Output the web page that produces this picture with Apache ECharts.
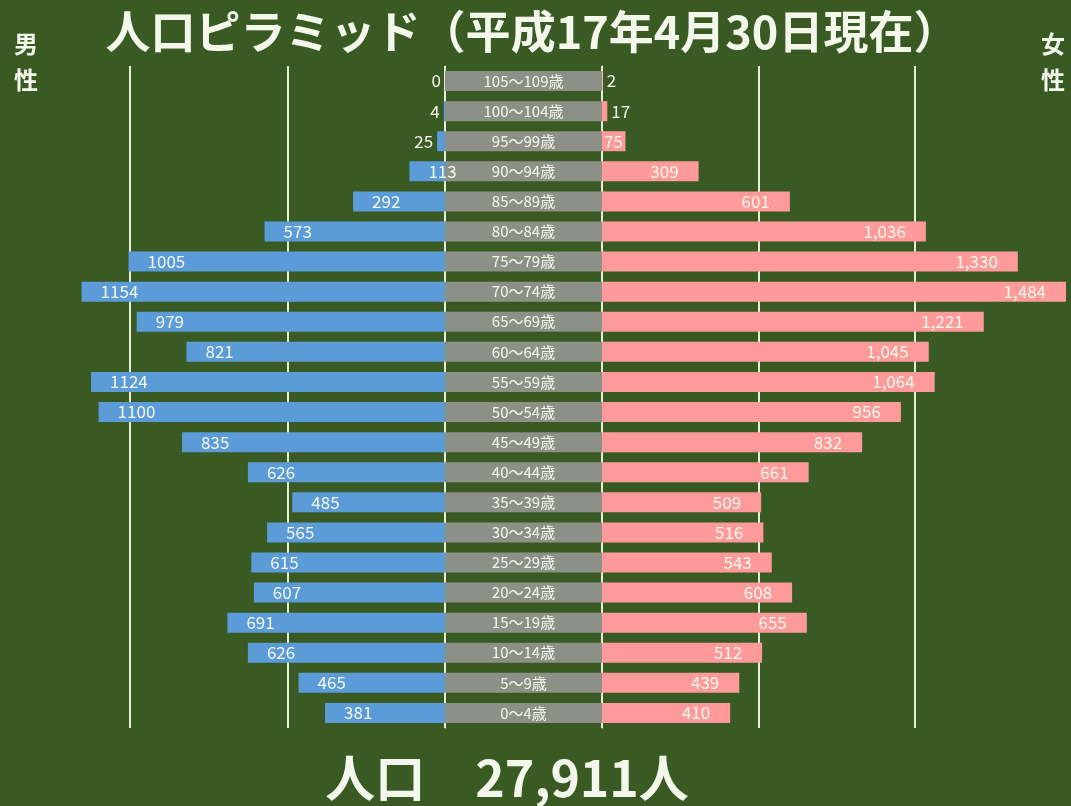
<!DOCTYPE html>
<html>
<head>
<meta charset="utf-8">
<script src="https://cdn.jsdelivr.net/npm/echarts@6/dist/echarts.min.js"></script>
<style>
  html, body { margin: 0; padding: 0; background: #3a5a24; }
  #chart { width: 1071px; height: 806px; }
</style>
</head>
<body>
<div id="chart"></div>
<script>
// 年齢階級（上から順）
var ages = ['105～109歳', '100～104歳', '95～99歳', '90～94歳', '85～89歳', '80～84歳',
            '75～79歳', '70～74歳', '65～69歳', '60～64歳', '55～59歳', '50～54歳',
            '45～49歳', '40～44歳', '35～39歳', '30～34歳', '25～29歳', '20～24歳',
            '15～19歳', '10～14歳', '5～9歳', '0～4歳'];
var male = [0, 4, 25, 113, 292, 573, 1005, 1154, 979, 821, 1124, 1100,
            835, 626, 485, 565, 615, 607, 691, 626, 465, 381];
var female = [2, 17, 75, 309, 601, 1036, 1330, 1484, 1221, 1045, 1064, 956,
              832, 661, 509, 516, 543, 608, 655, 512, 439, 410];

var textColor = '#f4f8ec';
var lineColor = '#e6eed8';
var font = '"Noto Sans CJK JP", "Noto Sans", sans-serif';

var total = 0;
male.forEach(function (v) { total += v; });
female.forEach(function (v) { total += v; });

var maleData = male.map(function (v) {
    var item = { value: v };
    if (v < 60) {
        item.label = { position: 'left', distance: 4 };
    }
    return item;
});
var femaleData = female.map(function (v) {
    var item = { value: v };
    if (v < 30) {
        item.label = { position: 'right', distance: 4 };
    } else if (v < 100) {
        item.label = { position: 'insideLeft', distance: 2 };
    }
    return item;
});
var bandData = ages.map(function () { return 1; });

var chart = echarts.init(document.getElementById('chart'));

var gridTop = 66, gridHeight = 662;

var option = {
    backgroundColor: '#3a5a24',
    textStyle: { fontFamily: font },
    title: {
        text: '人口ピラミッド（平成17年4月30日現在）',
        left: 527,
        top: 4,
        textAlign: 'center',
        textStyle: { color: textColor, fontSize: 45, fontWeight: 'bold', fontFamily: font }
    },
    graphic: [
        { type: 'text', left: 14, top: 26, style: { text: '男\n性', fill: textColor, font: 'bold 24px ' + font, lineHeight: 36 } },
        { type: 'text', right: 6, top: 26, style: { text: '女\n性', fill: textColor, font: 'bold 24px ' + font, lineHeight: 36 } },
        { type: 'text', x: 507, y: 778, style: {
            text: '人口　' + total.toLocaleString('en-US') + '人',
            fill: textColor, font: 'bold 50px ' + font, align: 'center', verticalAlign: 'middle' } }
    ],
    grid: [
        { left: 1, width: 444, top: gridTop, height: gridHeight },
        { left: 445, width: 157, top: gridTop, height: gridHeight },
        { left: 602, width: 473, top: gridTop, height: gridHeight }
    ],
    xAxis: [
        { gridIndex: 0, type: 'value', inverse: true, min: 0, max: 1410, interval: 500,
          axisLabel: { show: false }, axisTick: { show: false }, axisLine: { show: false },
          splitLine: { show: true, showMaxLine: false, lineStyle: { color: lineColor, width: 2 } } },
        { gridIndex: 1, type: 'value', min: 0, max: 1, show: false },
        { gridIndex: 2, type: 'value', min: 0, max: 1500, interval: 500,
          axisLabel: { show: false }, axisTick: { show: false }, axisLine: { show: false },
          splitLine: { show: true, showMaxLine: false, lineStyle: { color: lineColor, width: 2 } } }
    ],
    yAxis: [
        { gridIndex: 0, type: 'category', data: ages, inverse: true, position: 'right',
          axisLabel: { show: false }, axisTick: { show: false },
          axisLine: { show: true, lineStyle: { color: lineColor, width: 1 } } },
        { gridIndex: 1, type: 'category', data: ages, inverse: true, show: false },
        { gridIndex: 2, type: 'category', data: ages, inverse: true, position: 'left',
          axisLabel: { show: false }, axisTick: { show: false },
          axisLine: { show: true, lineStyle: { color: lineColor, width: 1 } } }
    ],
    series: [
        {
            name: '男性', type: 'bar', xAxisIndex: 0, yAxisIndex: 0,
            data: maleData, barWidth: 20,
            itemStyle: { color: '#5b9bd8' },
            label: { show: true, position: 'insideLeft', distance: 19, color: textColor,
                     fontSize: 17, fontFamily: font }
        },
        {
            name: '年齢', type: 'bar', xAxisIndex: 1, yAxisIndex: 1,
            data: bandData, barWidth: 20, silent: true,
            itemStyle: { color: '#8c9087' },
            label: { show: true, position: 'inside', color: textColor, fontSize: 15, fontFamily: font,
                     formatter: function (p) { return p.name; } }
        },
        {
            name: '女性', type: 'bar', xAxisIndex: 2, yAxisIndex: 2,
            data: femaleData, barWidth: 20,
            itemStyle: { color: '#ff9a9a' },
            label: { show: true, position: 'insideRight', distance: 20, color: textColor,
                     fontSize: 17, fontFamily: font,
                     formatter: function (p) { return p.value.toLocaleString('en-US'); } }
        }
    ]
};

chart.setOption(option);
window.onresize = chart.resize;
</script>
</body>
</html>
